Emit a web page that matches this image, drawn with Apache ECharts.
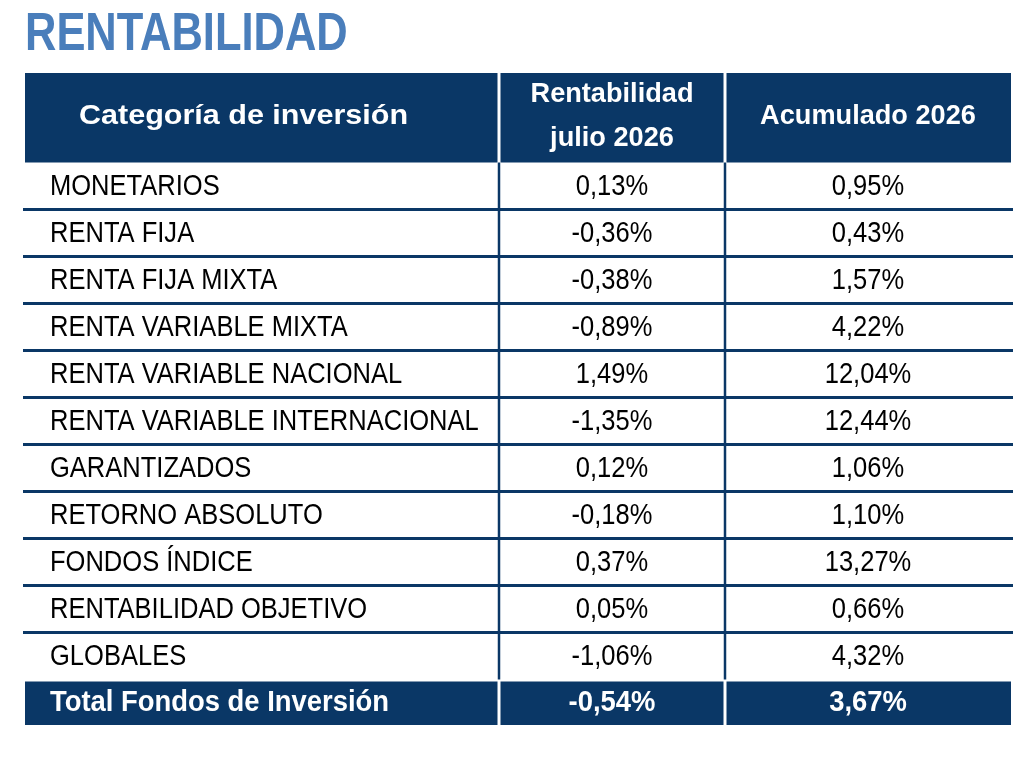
<!DOCTYPE html>
<html>
<head>
<meta charset="utf-8">
<script src="https://cdn.jsdelivr.net/npm/echarts@6/dist/echarts.min.js"></script>
<style>
html, body { margin: 0; background: #fff; }
#main { width: 1036px; height: 758px; }
</style>
</head>
<body>
<div id="main"></div>
<script>
var title = 'RENTABILIDAD';
var headers = ['Categoría de inversión', 'Rentabilidad\njulio 2026', 'Acumulado 2026'];
var categories = [
    'MONETARIOS', 'RENTA FIJA', 'RENTA FIJA MIXTA', 'RENTA VARIABLE MIXTA',
    'RENTA VARIABLE NACIONAL', 'RENTA VARIABLE INTERNACIONAL', 'GARANTIZADOS',
    'RETORNO ABSOLUTO', 'FONDOS ÍNDICE', 'RENTABILIDAD OBJETIVO', 'GLOBALES'
];
var rentJulio = [0.13, -0.36, -0.38, -0.89, 1.49, -1.35, 0.12, -0.18, 0.37, 0.05, -1.06];
var acumulado2026 = [0.95, 0.43, 1.57, 4.22, 12.04, 12.44, 1.06, 1.10, 13.27, 0.66, 4.32];
var totalLabel = 'Total Fondos de Inversión';
var totalJulio = -0.54;
var totalAcumulado = 3.67;

// table layout, in pixels on the hidden value axes
var colWidths = [474, 226, 286];
var headerHeight = 89.5, rowHeight = 47, totalHeight = 45.5;
var navy = '#0a3766';
var FONT = "'Liberation Sans', Arial, sans-serif";

var colEdges = [0];
colWidths.forEach(function (w, i) { colEdges.push(colEdges[i] + w); });
var rowEdges = [0, headerHeight];
categories.forEach(function () { rowEdges.push(rowEdges[rowEdges.length - 1] + rowHeight); });
rowEdges.push(rowEdges[rowEdges.length - 1] + totalHeight);
var lastRow = rowEdges.length - 2;

function fmt(v) {
    return v.toFixed(2).replace('.', ',') + '%';
}

function cellText(c, r) {
    if (r === 0) return headers[c];
    if (r === lastRow) return [totalLabel, fmt(totalJulio), fmt(totalAcumulado)][c];
    var i = r - 1;
    return [categories[i], fmt(rentJulio[i]), fmt(acumulado2026[i])][c];
}

var cells = [];
for (var r = 0; r <= lastRow; r++) {
    for (var c = 0; c < colWidths.length; c++) cells.push([c, r]);
}

function renderItem(params, api) {
    var c = api.value(0), r = api.value(1);
    var tl = api.coord([colEdges[c], rowEdges[r]]);
    var br = api.coord([colEdges[c + 1], rowEdges[r + 1]]);
    var x0 = tl[0], y0 = tl[1], x1 = br[0], y1 = br[1];
    var isHead = r === 0, isTotal = r === lastRow;
    var kids = [];

    if (isHead || isTotal) {
        var l = c > 0 ? x0 + 1.5 : x0;
        var rr = c < colWidths.length - 1 ? x1 - 1.5 : x1;
        var t = isTotal ? y0 + 2 : y0;
        kids.push({ type: 'rect', shape: { x: l, y: t, width: rr - l, height: y1 - t }, style: { fill: navy } });
    } else {
        if (r < lastRow - 1) {
            var lx = c === 0 ? x0 - 2 : x0;
            var rx = c === colWidths.length - 1 ? x1 + 2 : x1;
            kids.push({ type: 'rect', shape: { x: lx, y: y1 - 1.5, width: rx - lx, height: 3 }, style: { fill: navy } });
        }
        if (c > 0) {
            kids.push({ type: 'rect', shape: { x: x0 - 1.25, y: y0, width: 2.5, height: y1 - y0 }, style: { fill: navy } });
        }
    }

    var font, sx, dy = 0, fill = isHead || isTotal ? '#fff' : '#000';
    if (isHead) { font = 'bold 28px ' + FONT; sx = c === 0 ? 1.09 : 0.97; dy = -1; }
    else if (isTotal) { font = 'bold 29px ' + FONT; sx = 0.945; dy = 1; }
    else { font = '29px ' + FONT; sx = 0.88; dy = 0.5; }

    var tx, align;
    if (c === 0) { tx = x0 + (isHead ? 54 : 25); align = 'left'; }
    else { tx = (x0 + x1) / 2; align = 'center'; }

    kids.push({
        type: 'text',
        x: tx,
        y: (y0 + y1) / 2 + dy,
        scaleX: sx,
        style: {
            text: cellText(c, r),
            font: font,
            fill: fill,
            align: align,
            verticalAlign: 'middle',
            lineHeight: 44
        }
    });
    return { type: 'group', children: kids };
}

var chart = echarts.init(document.getElementById('main'));
chart.setOption({
    animation: false,
    graphic: [{
        type: 'text',
        x: 25,
        y: 35,
        scaleX: 0.82,
        style: {
            text: title,
            font: 'bold 53px ' + FONT,
            fill: '#4a7ebb',
            verticalAlign: 'middle'
        }
    }],
    grid: { left: 25, right: 25, top: 73, bottom: 33, containLabel: false },
    xAxis: { type: 'value', min: 0, max: colEdges[colEdges.length - 1], show: false },
    yAxis: { type: 'value', min: 0, max: rowEdges[rowEdges.length - 1], inverse: true, show: false },
    series: [{
        type: 'custom',
        renderItem: renderItem,
        data: cells,
        encode: { x: 0, y: 1 },
        silent: true
    }]
});
</script>
</body>
</html>
